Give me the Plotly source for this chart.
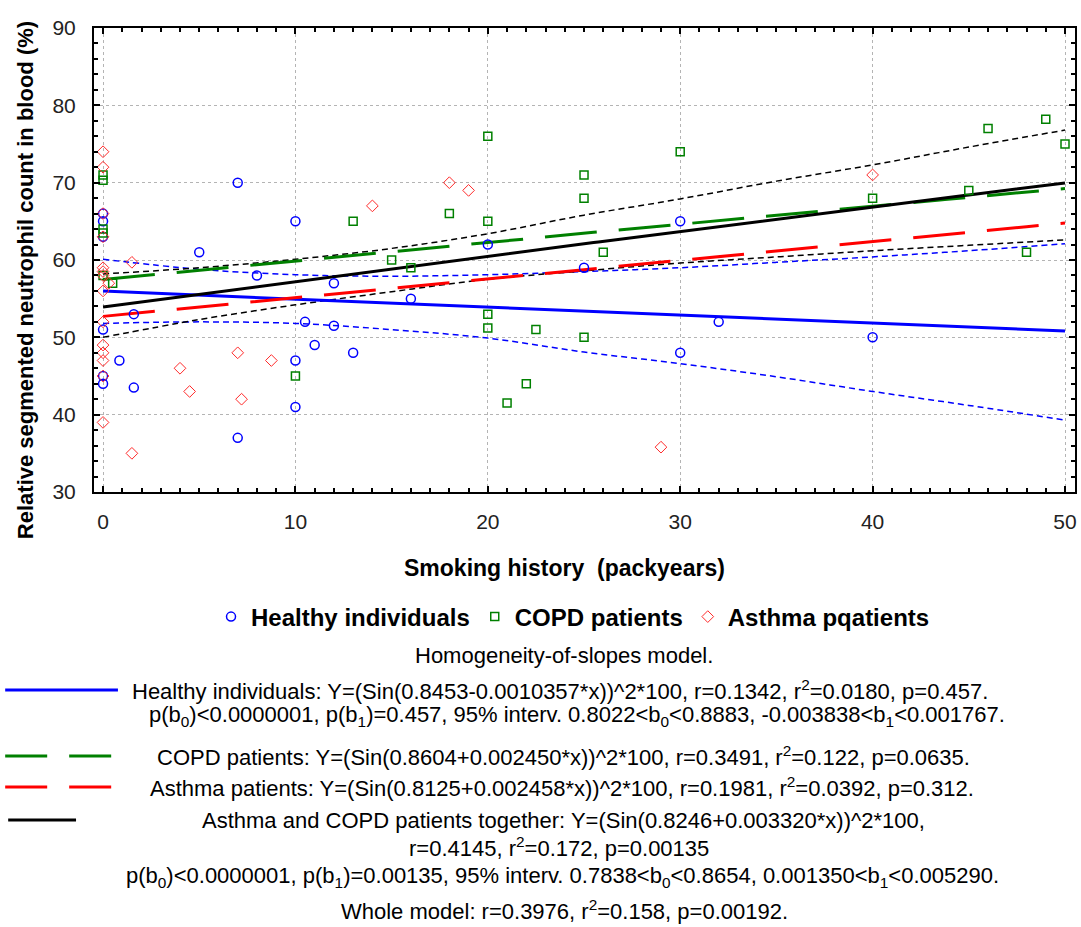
import numpy as np
import plotly.graph_objects as go

# ---- observations: smoking history (packyears) vs neutrophil count (%) ----
healthy_x = [0, 0, 0, 0, 0, 0, 0.85, 1.6, 1.6, 5, 7, 7, 8, 10, 10, 10, 10.5, 11,
             12, 12, 13, 16, 20, 25, 30, 30, 32, 40]
healthy_y = [66, 65, 63, 51, 45, 44, 47, 53, 43.5, 61, 70, 37, 58, 65, 47, 41, 52, 49,
             57, 51.5, 48, 55, 62, 59, 65, 48, 52, 50]

copd_x = [0, 0, 0, 0, 0, 0.5, 10, 13, 15, 16, 18, 20, 20, 20, 20, 21, 22, 22.5,
          25, 25, 25, 26, 30, 40, 45, 46, 48, 49, 50]
copd_y = [71, 70.3, 64, 63.5, 58, 57, 45, 65, 60, 59, 66, 76, 65, 53, 51.2, 41.5, 44, 51,
          71, 68, 50, 61, 74, 68, 69, 77, 61, 78.2, 75]

asthma_x = [0, 0, 0, 0, 0, 0, 0, 0.3, 0, 0, 0, 0, 0, 0, 0, 1.5, 1.5, 4, 4.5, 7,
            7.2, 8.75, 14, 18, 19, 29, 40]
asthma_y = [74, 72, 66, 63, 59, 58.5, 58, 57, 56, 52, 49, 48, 47, 45, 39, 59.7, 35, 46, 43, 48,
            42, 47, 67, 70, 69, 35.8, 71]

# ---- fitted models Y = (sin(b0 + b1*x))^2 * 100 ----
fit_names = ["Healthy individuals", "COPD patients", "Asthma patients",
             "Asthma and COPD patients together"]
fit_b0 = [0.8453, 0.8604, 0.8125, 0.8246]
fit_b1 = [-0.0010357, 0.002450, 0.002458, 0.003320]

# ---- 95% confidence bands ----
band_x = [0, 5, 10, 15, 20, 25, 30, 35, 40, 45, 50]
healthy_upper = [60.1, 58.8, 58.1, 57.9, 58.1, 58.5, 59.0, 59.7, 60.4, 61.2, 62.1]
healthy_lower = [51.8, 52.0, 51.8, 51.0, 49.9, 48.1, 46.6, 44.9, 43.0, 41.2, 39.3]
together_upper = [58.2, 59.0, 60.1, 61.5, 63.4, 65.8, 67.9, 70.2, 72.3, 74.6, 76.8]
together_lower = [50.0, 52.3, 54.2, 55.9, 57.5, 58.6, 59.6, 60.4, 61.2, 61.9, 62.6]

x_ticks = [0, 10, 20, 30, 40, 50]
y_ticks = [30, 40, 50, 60, 70, 80, 90]

BLUE = "#0000FF"
GREEN = "#008000"
RED = "#FF0000"
FONT = "Liberation Sans, Arial, sans-serif"

# plot-area geometry in pixels
L, T, W, H = 94, 28, 983, 464


def px_x(p):
    return (p - L) / W


def px_y(p):
    return (T + H - p) / H


fig = go.Figure()

# confidence bands
for ys, col in [(healthy_upper, BLUE), (healthy_lower, BLUE),
                (together_upper, "black"), (together_lower, "black")]:
    fig.add_trace(go.Scatter(x=band_x, y=ys, mode="lines", showlegend=False,
                             line=dict(color=col, width=1.5, dash="6px,4px", shape="spline"),
                             hoverinfo="skip"))

# fitted curves
xs = np.linspace(0, 50, 201)
fit_styles = [dict(color=BLUE, width=3),
              dict(color=GREEN, width=3, dash="52px,22px"),
              dict(color=RED, width=3, dash="52px,22px"),
              dict(color="black", width=3)]
for name, b0, b1, st in zip(fit_names, fit_b0, fit_b1, fit_styles):
    fig.add_trace(go.Scatter(x=xs, y=np.sin(b0 + b1 * xs) ** 2 * 100, mode="lines",
                             name=name, showlegend=False, line=st))

# observations
fig.add_trace(go.Scatter(x=healthy_x, y=healthy_y, mode="markers",
                         name="<b>Healthy individuals</b>",
                         marker=dict(symbol="circle-open", size=9, color=BLUE,
                                     line=dict(width=1.5, color=BLUE))))
fig.add_trace(go.Scatter(x=copd_x, y=copd_y, mode="markers", name="<b>COPD patients</b>",
                         marker=dict(symbol="square-open", size=8, color=GREEN,
                                     line=dict(width=1.5, color=GREEN))))
fig.add_trace(go.Scatter(x=asthma_x, y=asthma_y, mode="markers",
                         name="<b>Asthma pqatients</b>",
                         marker=dict(symbol="diamond-open", size=9, color="#FF2A2A",
                                     line=dict(width=1, color="#FF2A2A"))))

axis_common = dict(
    showline=True, linecolor="black", linewidth=2, mirror="ticks",
    ticks="inside", ticklen=6, tickwidth=2, tickcolor="black",
    showgrid=True, gridcolor="#b4b4b4", griddash="dot", gridwidth=1,
    zeroline=False, tickfont=dict(family=FONT, size=21, color="#222222"),
)

fig.update_xaxes(range=[-0.47, 50.52], tickvals=x_ticks, ticklabelstandoff=10,
                 minor=dict(dtick=1, tick0=0, ticks="inside", ticklen=4, tickwidth=1.5,
                            tickcolor="black", showgrid=False),
                 **axis_common)
fig.update_yaxes(range=[30, 90], tickvals=y_ticks, ticklabelstandoff=12,
                 minor=dict(dtick=2, tick0=30, ticks="inside", ticklen=4, tickwidth=1.5,
                            tickcolor="black", showgrid=False),
                 **axis_common)

TXT = 22
annotations = [
    dict(text="<b>Relative segmented neutrophil count in blood (%)</b>", textangle=-90,
         x=px_x(25), y=px_y(280), size=22),
    dict(text="<b>Smoking history  (packyears)</b>", x=px_x(565), y=px_y(568), size=23),
    dict(text="Homogeneity-of-slopes model.", x=px_x(565), y=px_y(655), size=TXT),
    dict(text="Healthy individuals: Y=(Sin(0.8453-0.0010357*x))^2*100, r=0.1342, "
              "r<sup>2</sup>=0.0180, p=0.457.", x=px_x(561), y=px_y(690), size=TXT),
    dict(text="p(b<sub>0</sub>)<0.0000001, p(b<sub>1</sub>)=0.457, 95% interv. "
              "0.8022<b<sub>0</sub><0.8883, -0.003838<b<sub>1</sub><0.001767.",
         x=px_x(578), y=px_y(716), size=TXT),
    dict(text="COPD patients: Y=(Sin(0.8604+0.002450*x))^2*100, r=0.3491, "
              "r<sup>2</sup>=0.122, p=0.0635.", x=px_x(564), y=px_y(756), size=TXT),
    dict(text="Asthma patients: Y=(Sin(0.8125+0.002458*x))^2*100, r=0.1981, "
              "r<sup>2</sup>=0.0392, p=0.312.", x=px_x(563), y=px_y(787), size=TXT),
    dict(text="Asthma and COPD patients together: Y=(Sin(0.8246+0.003320*x))^2*100,",
         x=px_x(564), y=px_y(820), size=TXT),
    dict(text="r=0.4145, r<sup>2</sup>=0.172, p=0.00135", x=px_x(560), y=px_y(847), size=TXT),
    dict(text="p(b<sub>0</sub>)<0.0000001, p(b<sub>1</sub>)=0.00135, 95% interv. "
              "0.7838<b<sub>0</sub><0.8654, 0.001350<b<sub>1</sub><0.005290.",
         x=px_x(563), y=px_y(877), size=TXT),
    dict(text="Whole model: r=0.3976, r<sup>2</sup>=0.158, p=0.00192.",
         x=px_x(565), y=px_y(910), size=TXT),
]
fig.update_layout(annotations=[
    dict(text=a["text"], x=a["x"], y=a["y"], xref="paper", yref="paper",
         xanchor="center", yanchor="middle", showarrow=False,
         textangle=a.get("textangle", 0),
         font=dict(family=FONT, size=a["size"], color="black"))
    for a in annotations
])

# line samples next to the model descriptions
samples = [
    (5, 118, 690, BLUE, None),
    (5, 115, 756, GREEN, "42px,22px"),
    (5, 115, 787, RED, "42px,22px"),
    (8, 76, 820, "black", None),
]
shapes = []
for x0, x1, yy, col, dash in samples:
    ln = dict(color=col, width=3)
    if dash:
        ln["dash"] = dash
    shapes.append(dict(type="line", xref="paper", yref="paper",
                       x0=px_x(x0), x1=px_x(x1), y0=px_y(yy), y1=px_y(yy), line=ln))

fig.update_layout(
    width=1081, height=927,
    margin=dict(l=L, r=1081 - L - W, t=T, b=927 - T - H),
    paper_bgcolor="white", plot_bgcolor="white",
    shapes=shapes,
    showlegend=True,
    legend=dict(orientation="h", x=px_x(574), xanchor="center", y=px_y(617),
                yanchor="middle", font=dict(family=FONT, size=24, color="black"),
                bgcolor="rgba(0,0,0,0)", itemwidth=30,
                traceorder="normal"),
    font=dict(family=FONT),
)

fig.write_html("out.html")
